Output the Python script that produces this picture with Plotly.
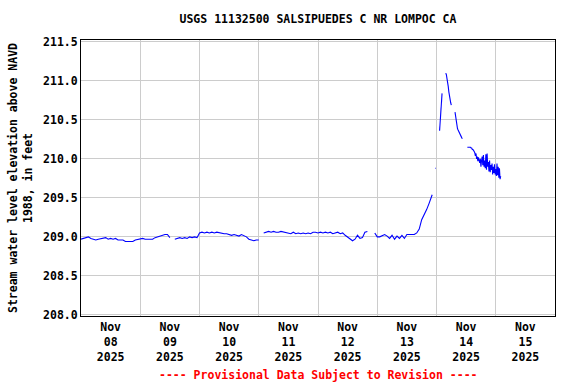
import pandas as pd
import plotly.graph_objects as go

# Hourly readings, Nov 08 00:00 -> Nov 13 22:00 (None = missing)
hourly_values = [
    208.97, 208.98, 208.98, 209.00, 208.98, 208.97, 208.96, 208.97, 208.98, 208.99, 208.99, 208.97,
    208.98, 208.97, 208.98, 208.96, 208.96, 208.96, 208.94, 208.94, 208.94, 208.94, 208.96, 208.97,
    208.98, 208.98, 208.97, 208.97, 208.97, 208.97, 208.99, 209.00, 209.00, 209.02, 209.03, 209.03,
    208.99, None, 208.97, 208.98, 208.99, 208.98, 208.99, 208.98, 209.00, 208.99, 209.00, 208.99,
    209.05, 209.06, 209.05, 209.06, 209.05, 209.06, 209.05, 209.06, 209.05, 209.05, 209.04, 209.04,
    209.03, 209.02, 209.03, 209.02, 209.01, 209.03, 209.02, 209.00, 208.97, 208.96, 208.95, 208.96,
    208.96, None, 209.05, 209.06, 209.07, 209.06, 209.07, 209.06, 209.06, 209.07, 209.06, 209.06,
    209.05, 209.04, 209.06, 209.04, 209.05, 209.04, 209.05, 209.04, 209.05, 209.04, 209.06, 209.06,
    209.05, 209.06, 209.05, 209.06, 209.05, 209.06, 209.04, 209.05, 209.06,
    209.04, 209.05, 209.02, 209.00, 208.97, 208.95, 208.97, 209.02, 208.98, 208.99, 209.06, 209.07,
    None, None, 209.05, 209.00, 209.00, 209.02, 209.03, 209.01, 208.98, 209.02, 208.97, 209.01,
    208.98, 209.02, 208.98, 209.03, 209.03, 209.03, 209.03, 209.05, 209.10, 209.22, 209.28, 209.35,
    209.43, 209.52,
]

# 15-minute readings, Nov 13 22:15 onward (None = missing)
event_values = [
    209.54, None, None, None, None, 209.88, 209.88, None, None, None, None, None,
    210.36, 210.47, 210.71, 210.80, 210.84, None, None, None, None, None,
    211.10, 211.08, 211.03, 210.99, 210.93, 210.86, 210.79, 210.76, 210.72, 210.69,
    None, None, None, None, None,
    210.60, 210.53, 210.48, 210.42, 210.39, 210.37, 210.35, 210.33, 210.31, 210.30, 210.28, 210.27, 210.26,
    None, None, None, None, None, None, None,
    210.15, 210.15, 210.15, 210.15, 210.15, 210.15, 210.14, 210.14,
    210.12, 210.12, 210.11, 210.10, 210.08, 210.04, 210.07, 210.00, 210.03, 209.97, 210.02, 209.98,
    209.95, 210.00, 209.90, 209.98, 210.03, 209.92, 210.05, 209.90, 209.98, 209.88, 210.06, 209.86,
    210.07, 209.90, 209.96, 209.84, 209.98, 209.83, 209.92, 209.86, 209.94, 209.80, 209.90, 209.82,
    209.93, 209.80, 209.87, 209.78, 209.94, 209.79, 209.90, 209.76, 209.88, 209.74, 209.78,
]

hourly_times = pd.date_range("2025-11-08 00:00", periods=len(hourly_values), freq="h")
event_times = pd.date_range("2025-11-13 22:15", periods=len(event_values), freq="15min")

days = pd.date_range("2025-11-08", "2025-11-16", freq="D")
label_days = ["08", "09", "10", "11", "12", "13", "14", "15"]
tick_positions = [d + pd.Timedelta(hours=12) for d in days[:-1]]
tick_labels = [f"Nov<br>{d}<br>2025" for d in label_days]

x = list(hourly_times) + list(event_times)
y = hourly_values + event_values

FONT = "DejaVu Sans Mono"

fig = go.Figure()
fig.add_trace(go.Scatter(x=x, y=y, mode="lines", line=dict(color="#0000FF", width=1.1),
                         connectgaps=False, showlegend=False))

fig.update_layout(
    width=576, height=384,
    margin=dict(l=79, r=21, t=40, b=68),
    paper_bgcolor="white", plot_bgcolor="white",
    font=dict(family=FONT, size=11.5, color="black", weight="bold"),
    title=dict(text="USGS 11132500 SALSIPUEDES C NR LOMPOC CA", x=0.5, xref="paper",
               y=1 - 19 / 384, yref="container", xanchor="center", yanchor="middle",
               font=dict(family=FONT, size=11.5, color="black", weight="bold")),
    xaxis=dict(
        type="date", range=[days[0], days[-1]],
        tickmode="array", tickvals=tick_positions, ticktext=tick_labels,
        showgrid=False, ticks="", zeroline=False,
        showline=True, linecolor="black", linewidth=1, mirror=True,
        tickfont=dict(family=FONT, size=11.5, color="black", weight="bold"),
        minor=dict(tickmode="array", tickvals=list(days), showgrid=True,
                   gridcolor="#CCCCCC", gridwidth=1, ticks=""),
    ),
    yaxis=dict(
        range=[207.985, 211.525],
        tickmode="array", tickvals=[208.0, 208.5, 209.0, 209.5, 210.0, 210.5, 211.0, 211.5],
        tickformat=".1f",
        showgrid=True, gridcolor="#CCCCCC", gridwidth=1, zeroline=False,
        showline=True, linecolor="black", linewidth=1, mirror=True, ticks="",
        tickfont=dict(family=FONT, size=11.5, color="black", weight="bold"),
        title=dict(text="Stream water level elevation above NAVD<br>1988, in feet",
                   font=dict(family=FONT, size=11.5, color="black", weight="bold"),
                   standoff=8),
    ),
    annotations=[dict(text="---- Provisional Data Subject to Revision ----",
                      x=0.5, xref="paper", y=-0.2138, yref="paper",
                      xanchor="center", yanchor="middle", showarrow=False,
                      font=dict(family=FONT, size=11.5, color="#FF0000", weight="bold"))],
)

fig.write_html("out.html", config={"displayModeBar": False},
               post_script="document.body.style.margin='0';document.body.style.overflow='hidden';")
